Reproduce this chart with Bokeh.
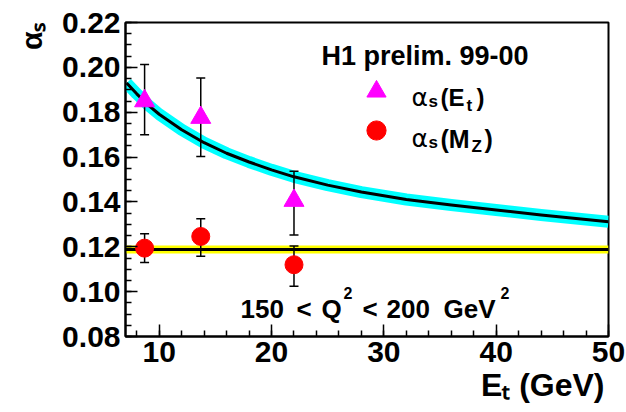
import math
from bokeh.plotting import figure
from bokeh.models import Label, Legend, LegendItem, FixedTicker, PrintfTickFormatter, Range1d, Title
from bokeh.embed import file_html
from bokeh.resources import INLINE

# ---- data ----
et_points = [8.7, 13.7, 22.0]
alpha_et = [0.1850, 0.1776, 0.1406]
alpha_et_lo = [0.1700, 0.1603, 0.1253]
alpha_et_hi = [0.2013, 0.1952, 0.1537]

alpha_mz = [0.1194, 0.1246, 0.1120]
alpha_mz_lo = [0.1130, 0.1158, 0.1024]
alpha_mz_hi = [0.1258, 0.1325, 0.1203]

curve_et = [7.1, 8, 9, 10, 12, 14, 16, 18, 20, 22, 25, 28, 32, 36, 40, 44, 50]
curve_alpha = [0.1930, 0.1882, 0.1833, 0.1791, 0.1722, 0.1664, 0.1617, 0.1578,
               0.1543, 0.1512, 0.1475, 0.1444, 0.1411, 0.1386, 0.1364, 0.1342, 0.1312]

alpha_mz_world = 0.1186

x_major = [10, 20, 30, 40, 50]
x_minor = [8, 10, 12, 14, 16, 18, 20, 22, 24, 26, 28, 30, 32, 34, 36, 38, 40, 42, 44, 46, 48, 50]
y_major = [0.08, 0.10, 0.12, 0.14, 0.16, 0.18, 0.20, 0.22]
y_minor = [round(0.08 + 0.005 * i, 3) for i in range(29)]

x_title = "E\u209c (GeV)"
y_title = "\u03b1\u209b"

# ---- layout ----
W, H = 626, 412
ML, MR, MT, MB = 125, 18, 22, 76
FL = ML          # frame left (page px)
FB = H - MB      # frame bottom (page px)

p = figure(width=W, height=H, x_range=Range1d(7, 50), y_range=Range1d(0.08, 0.22),
           output_backend="svg", toolbar_location=None,
           min_border_left=ML, min_border_right=MR, min_border_top=MT, min_border_bottom=MB)
p.background_fill_color = "white"
p.border_fill_color = "white"
p.outline_line_color = "black"
p.outline_line_width = 2
p.xgrid.visible = False
p.ygrid.visible = False

p.xaxis.ticker = FixedTicker(ticks=x_major, minor_ticks=x_minor)
p.yaxis.ticker = FixedTicker(ticks=y_major, minor_ticks=y_minor)
p.yaxis.formatter = PrintfTickFormatter(format="%.2f")
p.xaxis.formatter = PrintfTickFormatter(format="%d")
for ax in (p.xaxis[0], p.yaxis[0]):
    ax.axis_line_color = "black"
    ax.axis_line_width = 2
    ax.major_tick_in = 12
    ax.major_tick_out = 0
    ax.minor_tick_in = 6
    ax.minor_tick_out = 0
    ax.major_tick_line_width = 1.5
    ax.minor_tick_line_width = 1.5
    ax.major_tick_line_color = "black"
    ax.minor_tick_line_color = "black"
    ax.major_label_text_font = "Liberation Sans"
    ax.major_label_text_font_style = "bold"
    ax.major_label_text_font_size = "30px"
    ax.major_label_text_color = "black"
p.yaxis.major_label_standoff = 5
p.xaxis.major_label_standoff = 5

# axis titles as side-panel titles (aligned to the frame ends)
p.add_layout(Title(text=x_title, align="right", offset=4, standoff=0,
                   text_font="Liberation Sans", text_font_style="bold",
                   text_font_size="32px", text_color="black"), "below")
p.add_layout(Title(text=y_title, align="right", offset=0, standoff=24,
                   text_font="Liberation Sans", text_font_style="bold",
                   text_font_size="30px", text_color="black"), "left")

# ---- glyphs ----
p.line(curve_et, curve_alpha, line_color="#00ffff", line_width=12, line_join="round")
p.line(curve_et, curve_alpha, line_color="black", line_width=3, line_join="round")
p.hspan(y=[alpha_mz_world], line_color="#ffff00", line_width=8)
p.hspan(y=[alpha_mz_world], line_color="black", line_width=3)

for lo, hi in ((alpha_et_lo, alpha_et_hi), (alpha_mz_lo, alpha_mz_hi)):
    p.segment(x0=et_points, y0=lo, x1=et_points, y1=hi, line_color="black", line_width=1.5)
    p.scatter(et_points, lo, marker="dash", size=9, line_color="black", line_width=1.5)
    p.scatter(et_points, hi, marker="dash", size=9, line_color="black", line_width=1.5)

r_tri = p.scatter(et_points, alpha_et, marker="triangle", size=20,
                  fill_color="#ff00ff", line_color="#ff00ff")
r_circ = p.scatter(et_points, alpha_mz, marker="circle", size=18,
                   fill_color="#ff0000", line_color="#ff0000")

# ---- legend keys ----
def key(renderer, cx, cy):
    g = 48
    leg = Legend(items=[LegendItem(label=" ", renderers=[renderer])],
                 location=(cx - FL - g / 2, FB - cy - g / 2),
                 glyph_width=g, glyph_height=g, padding=0, margin=0, spacing=0,
                 label_standoff=0, label_width=0, label_height=0,
                 label_text_font_size="1px",
                 border_line_color=None, background_fill_alpha=0)
    p.add_layout(leg)

key(r_tri, 375.5, 90.5)
key(r_circ, 375.5, 130)

# ---- texts inside the frame ----
def txt(s, px, py, size, font="Liberation Sans", bold=True):
    p.add_layout(Label(x=px - FL, y=FB - py, x_units="screen", y_units="screen",
                       text=s, text_font=font, text_font_size=f"{size}px",
                       text_font_style="bold" if bold else "normal",
                       text_color="black", text_baseline="alphabetic",
                       text_align="left"))

# legend header and entries
txt("H1 prelim. 99-00", 321, 55, 27)
txt("\u03b1", 411, 97, 25, font="DejaVu Sans", bold=False)
txt("s", 428, 101, 17)
txt("(E", 440, 97, 24)
txt("t", 466, 105, 17)
txt(")", 476, 97, 24)
txt("\u03b1", 411, 138, 25, font="DejaVu Sans", bold=False)
txt("s", 428, 142, 17)
txt("(M", 440, 138, 25)
txt("Z", 471, 146, 17)
txt(")", 484, 138, 25)

# Q^2 range
txt("150", 240, 308, 26)
txt("<", 296, 308, 26)
txt("Q", 321, 308, 26)
txt("2", 343, 292, 16)
txt("<", 362, 308, 26)
txt("200", 386, 308, 26)
txt("GeV", 443, 308, 26)
txt("2", 500, 292, 16)

open("out.html", "w").write(file_html(p, INLINE))
